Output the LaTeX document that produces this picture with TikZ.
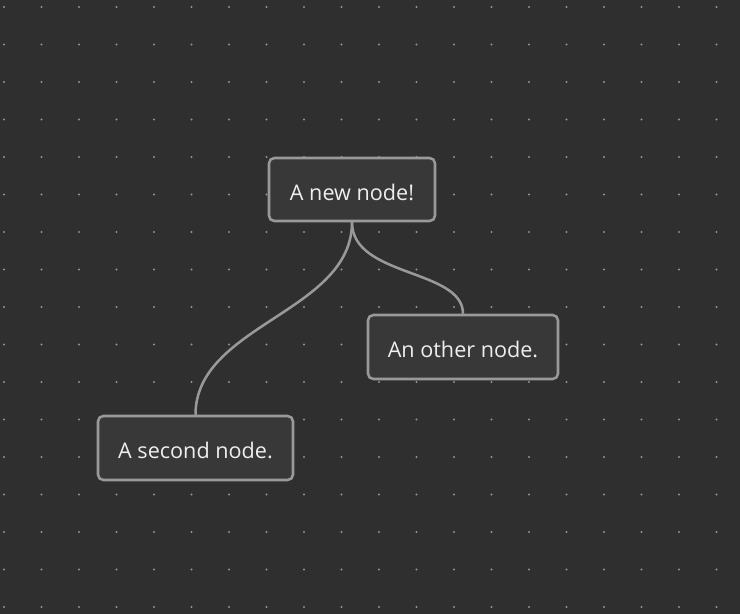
\documentclass[tikz,border=0pt]{standalone}
\usepackage{fontspec}
\setmainfont{Open Sans}
\definecolor{bg}{HTML}{2F2F2F}
\definecolor{nodefill}{HTML}{383838}
\definecolor{edge}{HTML}{999999}
\definecolor{dotc}{HTML}{929292}
\definecolor{txt}{HTML}{EEEEEE}
\begin{document}
\begin{tikzpicture}[x=0.75pt,y=-0.75pt,
  box/.style={draw=edge, line width=1.9pt, fill=nodefill, rounded corners=4pt,
    text=txt, font=\fontsize{16.2}{19}\selectfont, inner sep=0pt,
    text height=17pt, text depth=1pt},
  link/.style={draw=edge, line width=1.9pt}]
\fill[bg] (0,0) rectangle (740,614);
\useasboundingbox (0,0) rectangle (740,614);
\foreach \i in {0,...,19}{
  \foreach \j in {0,...,16}{
    \fill[dotc] (4+37.5*\i, 7+37.5*\j) circle (0.9pt);
  }
}
\node[box, minimum width=166*0.75pt, minimum height=63*0.75pt] (n1) at (352,189.5) {A new node!};
\node[box, minimum width=190*0.75pt, minimum height=64*0.75pt] (n2) at (463,347) {An other node.};
\node[box, minimum width=195*0.75pt, minimum height=64*0.75pt] (n3) at (195.5,448) {A second node.};
\draw[link] (n1.south) .. controls +(0,90) and +(0,-90) .. (n3.north);
\draw[link] (n1.south) .. controls +(0,55) and +(0,-45) .. (n2.north);
\end{tikzpicture}
\end{document}
